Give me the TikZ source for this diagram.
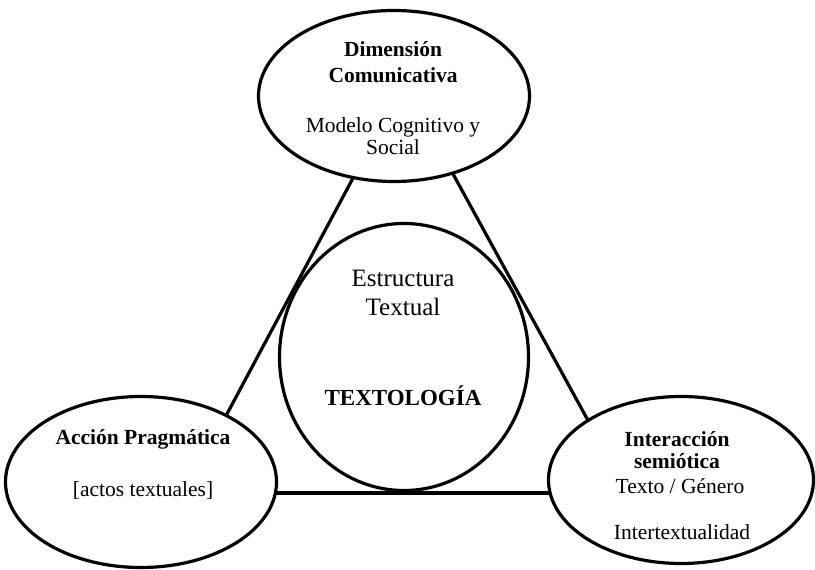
\documentclass[tikz,border=0pt]{standalone}
\usepackage{fontspec}
\setmainfont{Liberation Serif}
\usetikzlibrary{shapes.geometric}
\begin{document}
\begin{tikzpicture}[x=1pt,y=1pt,
  bubble/.style={draw=black,line width=3.2pt,ellipse,inner sep=0pt},
  link/.style={draw=black,line width=3.2pt},
  lbl/.style={inner sep=0pt,text height=0.7em,text depth=0.2em,font=\fontsize{21.5}{25}\selectfont},
  ttl/.style={lbl,font=\fontsize{21.5}{25}\selectfont\bfseries},
  big/.style={inner sep=0pt,text height=0.7em,text depth=0.2em,font=\fontsize{25}{29}\selectfont},
  bigb/.style={big,font=\fontsize{23}{27}\selectfont\bfseries}]
\useasboundingbox (0,0) rectangle (815,570);
% connector end points (inside the ellipses, hidden by their fill)
\coordinate (a1) at (360,405);
\coordinate (a2) at (220,143);
\coordinate (b1) at (447,407);
\coordinate (b2) at (596,135);
\coordinate (c1) at (260,77);
\coordinate (c2) at (570,77);
\draw[link] (a1) -- (a2);
\draw[link] (b1) -- (b2);
\draw[link] (c1) -- (c2);
% ellipses
\node[bubble,fill=white,minimum width=271pt,minimum height=171pt] (top) at (394,474) {};
\node[bubble,fill=white,minimum width=271pt,minimum height=171pt] (left) at (141,88) {};
\node[bubble,fill=white,minimum width=265pt,minimum height=167pt] (right) at (681,90) {};
\node[bubble,minimum width=249pt,minimum height=267pt] (mid) at (404,213) {};
% texts
\node[ttl] (t1) at (393,516) {Dimensión};
\node[ttl] (t2) at (393,490) {Comunicativa};
\node[lbl] (t3) at (393,440) {Modelo Cognitivo y};
\node[lbl] (t4) at (393,418) {Social};
\node[ttl] (l1) at (143,128) {Acción Pragmática};
\node[lbl] (l2) at (143,76) {[actos textuales]};
\node[ttl] (r1) at (677,126) {Interacción};
\node[ttl] (r2) at (677,104) {semiótica};
\node[lbl] (r3) at (680,79) {Texto / Género};
\node[lbl] (r4) at (682,33) {Intertextualidad};
\node[big] (m1) at (403,286) {Estructura};
\node[big] (m2) at (403,257) {Textual};
\node[bigb] (m3) at (403,167) {TEXTOLOGÍA};
\end{tikzpicture}
\end{document}
